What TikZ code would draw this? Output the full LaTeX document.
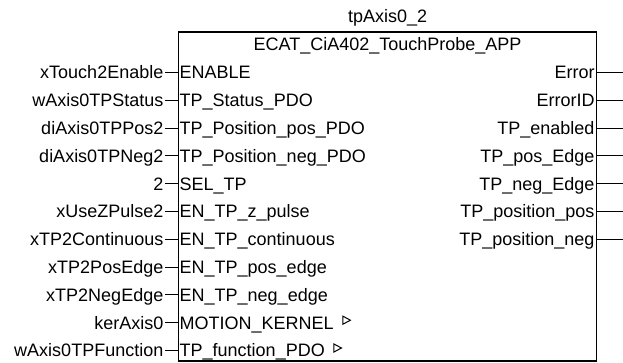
\documentclass[tikz,border=0pt]{standalone}
\usepackage{fontspec}
\setmainfont{Liberation Sans}
\usetikzlibrary{positioning,shapes.geometric}

\begin{document}
\begin{tikzpicture}[x=1pt, y=-1pt,
  lbl/.style={font=\fontsize{18pt}{20pt}\selectfont, text height=12.9pt, text depth=0pt, inner ysep=0pt},
  invar/.style={lbl, anchor=east, inner xsep=1.5pt},
  inpin/.style={lbl, anchor=west, inner xsep=1pt},
  outpin/.style={lbl, anchor=east, inner xsep=2pt},
  flagtip/.style={isosceles triangle, isosceles triangle stretches, draw, inner sep=0pt, minimum height=7.5pt, minimum width=8pt, line width=1pt},
  wire/.style={line width=1pt}]
  \useasboundingbox (0, 0) rectangle (623, 362);
  % Block
  \node (fb) [rectangle, draw, line width=1.2pt, inner sep=0pt, minimum width=418.2pt, minimum height=329pt] at (387.6, 196.5) {};
  % Header
  \node (title) [lbl] at (387.6, 16) {tpAxis0\_2};
  \node (hdr) [lbl] at (387.6, 44) {ECAT\_CiA402\_TouchProbe\_APP};
  % Inputs
  \node (i1) [invar] at (165, 72.5) {xTouch2Enable};
  \node (i2) [invar] at (165, 100.3) {wAxis0TPStatus};
  \node (i3) [invar] at (165, 128.1) {diAxis0TPPos2};
  \node (i4) [invar] at (165, 155.9) {diAxis0TPNeg2};
  \node (i5) [invar] at (165, 183.7) {2};
  \node (i6) [invar] at (165, 211.5) {xUseZPulse2};
  \node (i7) [invar] at (165, 239.3) {xTP2Continuous};
  \node (i8) [invar] at (165, 267.1) {xTP2PosEdge};
  \node (i9) [invar] at (165, 294.9) {xTP2NegEdge};
  \node (i10) [invar] at (165, 322.7) {kerAxis0};
  \node (i11) [invar] at (165, 350.5) {wAxis0TPFunction};
  % Input pins
  \node (p1) [inpin] at (178.5, 72.5) {ENABLE};
  \node (p2) [inpin] at (178.5, 100.3) {TP\_Status\_PDO};
  \node (p3) [inpin] at (178.5, 128.1) {TP\_Position\_pos\_PDO};
  \node (p4) [inpin] at (178.5, 155.9) {TP\_Position\_neg\_PDO};
  \node (p5) [inpin] at (178.5, 183.7) {SEL\_TP};
  \node (p6) [inpin] at (178.5, 211.5) {EN\_TP\_z\_pulse};
  \node (p7) [inpin] at (178.5, 239.3) {EN\_TP\_continuous};
  \node (p8) [inpin] at (178.5, 267.1) {EN\_TP\_pos\_edge};
  \node (p9) [inpin] at (178.5, 294.9) {EN\_TP\_neg\_edge};
  \node (p10) [inpin] at (178.5, 322.7) {MOTION\_KERNEL};
  \node (p11) [inpin] at (178.5, 350.5) {TP\_function\_PDO};
  \node (kflag) [flagtip, right=7.5pt of p10, yshift=2.5pt] {};
  \node (fflag) [flagtip, right=7.5pt of p11, yshift=2.5pt] {};
  % Output pins
  \node (q1) [outpin] at (596.7, 72.5) {Error};
  \node (q2) [outpin] at (596.7, 100.3) {ErrorID};
  \node (q3) [outpin] at (596.7, 128.1) {TP\_enabled};
  \node (q4) [outpin] at (596.7, 155.9) {TP\_pos\_Edge};
  \node (q5) [outpin] at (596.7, 183.7) {TP\_neg\_Edge};
  \node (q6) [outpin] at (596.7, 211.5) {TP\_position\_pos};
  \node (q7) [outpin] at (596.7, 239.3) {TP\_position\_neg};
  \coordinate (o1) at (623, 72.5);
  \coordinate (o2) at (623, 100.3);
  \coordinate (o3) at (623, 128.1);
  \coordinate (o4) at (623, 155.9);
  \coordinate (o5) at (623, 183.7);
  \coordinate (o6) at (623, 211.5);
  \coordinate (o7) at (623, 239.3);
  % Wires
  \draw[wire] (i1.east) -- (p1.west);
  \draw[wire] (i2.east) -- (p2.west);
  \draw[wire] (i3.east) -- (p3.west);
  \draw[wire] (i4.east) -- (p4.west);
  \draw[wire] (i5.east) -- (p5.west);
  \draw[wire] (i6.east) -- (p6.west);
  \draw[wire] (i7.east) -- (p7.west);
  \draw[wire] (i8.east) -- (p8.west);
  \draw[wire] (i9.east) -- (p9.west);
  \draw[wire] (i10.east) -- (p10.west);
  \draw[wire] (i11.east) -- (p11.west);
  \draw[wire] (q1.east) -- (o1);
  \draw[wire] (q2.east) -- (o2);
  \draw[wire] (q3.east) -- (o3);
  \draw[wire] (q4.east) -- (o4);
  \draw[wire] (q5.east) -- (o5);
  \draw[wire] (q6.east) -- (o6);
  \draw[wire] (q7.east) -- (o7);
\end{tikzpicture}
\end{document}
